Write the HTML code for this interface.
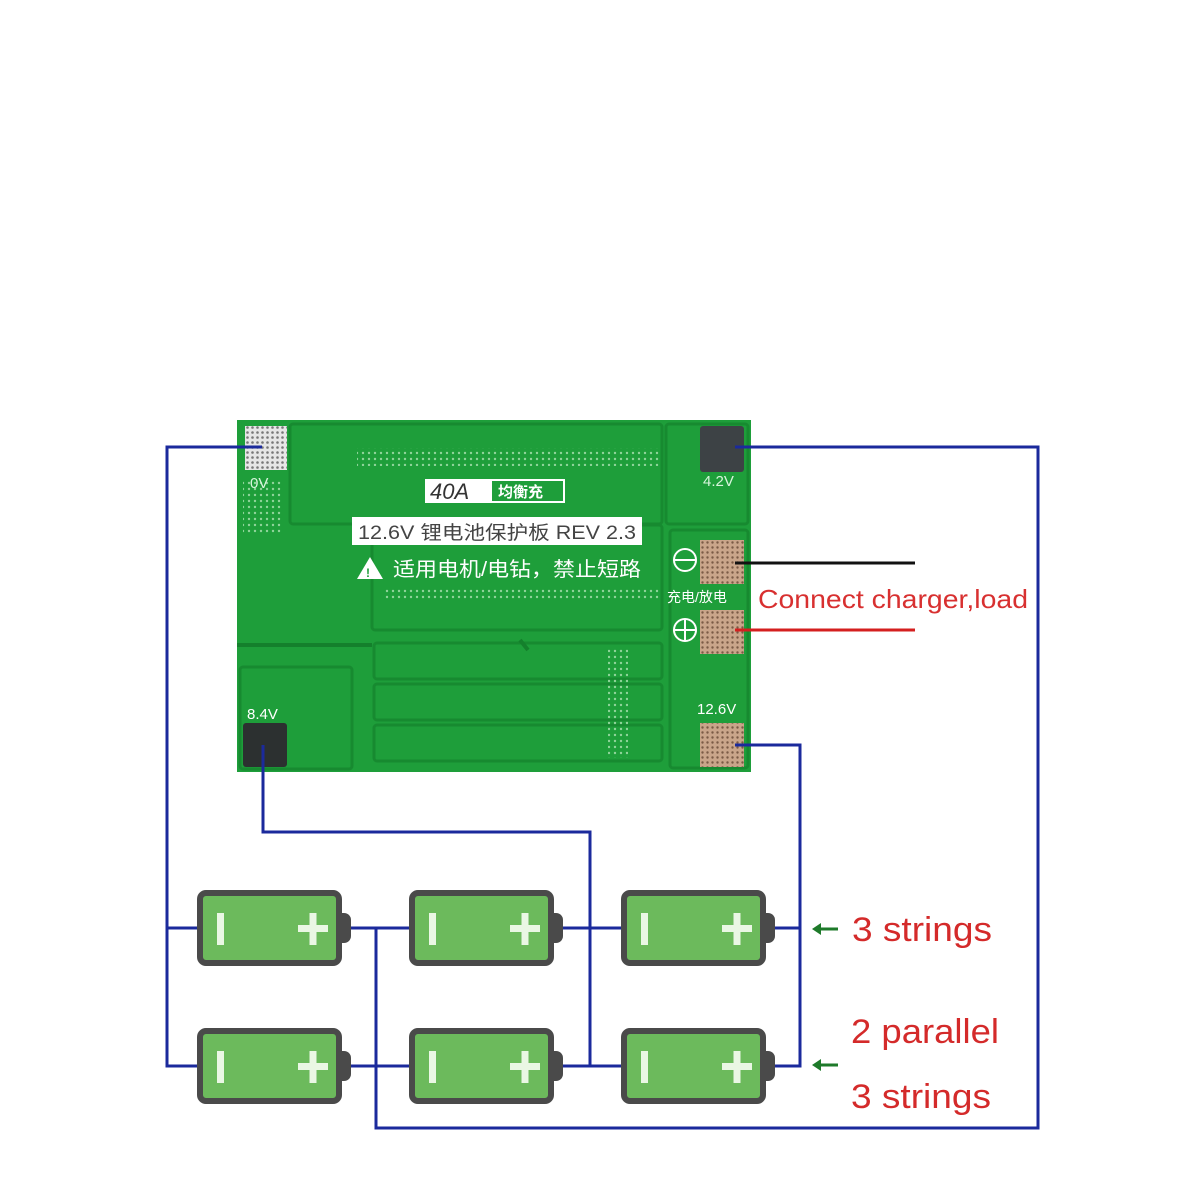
<!DOCTYPE html>
<html><head><meta charset="utf-8"><style>
html,body{margin:0;padding:0;background:#fff;width:1200px;height:1200px;overflow:hidden}
svg{display:block}
</style></head><body>
<svg width="1200" height="1200" viewBox="0 0 1200 1200" xmlns="http://www.w3.org/2000/svg" font-family="Liberation Sans, Noto Sans CJK SC, sans-serif">
<defs>
<pattern id="dots" width="6" height="6" patternUnits="userSpaceOnUse"><circle cx="3" cy="3" r="1.2" fill="#8fd49a"/></pattern>
<pattern id="pad" width="5" height="5" patternUnits="userSpaceOnUse"><rect width="5" height="5" fill="#c9a58a"/><circle cx="2.5" cy="2.5" r="1.2" fill="#7a5a45"/></pattern>
<pattern id="padw" width="5" height="5" patternUnits="userSpaceOnUse"><rect width="5" height="5" fill="#e6e6e6"/><circle cx="2.5" cy="2.5" r="1.3" fill="#777"/></pattern>
<g id="bat">
<rect x="2" y="2" width="139" height="70" rx="6" fill="#6cba5c" stroke="#4a4a4a" stroke-width="6"/>
<path d="M143 22 h3 a7 7 0 0 1 7 7 v16 a7 7 0 0 1 -7 7 h-3 z" fill="#4a4a4a"/>
<rect x="19" y="22" width="7" height="32" fill="#eaf7e4"/>
<rect x="100" y="34" width="30" height="7" fill="#eaf7e4"/>
<rect x="111.5" y="22" width="7" height="32" fill="#eaf7e4"/>
</g>
</defs>

<!-- PCB -->
<rect x="237" y="420" width="514" height="352" fill="#1e9e3a"/>
<g fill="none" stroke="#178a30" stroke-width="3">
<rect x="290" y="424" width="372" height="100" rx="3"/>
<rect x="666" y="424" width="82" height="100" rx="3"/>
<rect x="372" y="525" width="290" height="105" rx="3"/>
<rect x="374" y="643" width="288" height="36" rx="3"/>
<rect x="374" y="684" width="288" height="36" rx="3"/>
<rect x="374" y="725" width="288" height="36" rx="3"/>
<rect x="240" y="667" width="112" height="102" rx="3"/>
<rect x="670" y="530" width="78" height="238" rx="3"/>
</g>
<path d="M237 645 H372 M520 640 l8 10" stroke="#14802c" stroke-width="4" fill="none"/>
<rect x="357" y="448" width="303" height="18" fill="url(#dots)"/>
<rect x="385" y="587" width="275" height="14" fill="url(#dots)"/>
<rect x="243" y="480" width="40" height="55" fill="url(#dots)"/>
<rect x="608" y="648" width="20" height="110" fill="url(#dots)"/>
<!-- labels -->
<rect x="425" y="479" width="140" height="24" fill="#fff"/>
<rect x="492" y="481" width="71" height="20" fill="#1e9e3a"/>
<text x="430" y="499" font-size="22" font-style="italic" fill="#333">40A</text>
<text x="498" y="497" font-size="15" font-weight="bold" fill="#fff">均衡充</text>
<rect x="352" y="517" width="290" height="28" fill="#fff"/>
<text x="358" y="539" font-size="19" fill="#444" textLength="278" lengthAdjust="spacingAndGlyphs">12.6V 锂电池保护板 REV 2.3</text>
<path d="M370 557 l13 22 h-26 z" fill="#fff"/>
<text x="366" y="577" font-size="12" font-weight="bold" fill="#1e9e3a">!</text>
<text x="393" y="576" font-size="20" fill="#fff" textLength="248" lengthAdjust="spacingAndGlyphs">适用电机/电钻，禁止短路</text>
<text x="250" y="488" font-size="15" fill="#d8f5dc">0V</text>
<text x="703" y="486" font-size="15" fill="#d8f5dc">4.2V</text>
<text x="247" y="719" font-size="15" fill="#fff">8.4V</text>
<text x="697" y="714" font-size="15" fill="#fff">12.6V</text>
<text x="667" y="602" font-size="14" fill="#fff">充电/放电</text>
<circle cx="685" cy="560" r="11" fill="none" stroke="#fff" stroke-width="2"/>
<line x1="674" y1="560" x2="696" y2="560" stroke="#fff" stroke-width="2"/>
<circle cx="685" cy="630" r="11" fill="none" stroke="#fff" stroke-width="2"/>
<path d="M674 630 H696 M685 619 V641" stroke="#fff" stroke-width="2"/>
<!-- pads -->
<rect x="245" y="426" width="42" height="44" fill="url(#padw)"/>
<rect x="700" y="426" width="44" height="46" rx="3" fill="#3d4245"/>
<rect x="700" y="540" width="44" height="44" fill="url(#pad)"/>
<rect x="700" y="610" width="44" height="44" fill="url(#pad)"/>
<rect x="700" y="723" width="44" height="44" fill="url(#pad)"/>
<rect x="243" y="723" width="44" height="44" rx="3" fill="#2c3030"/>

<!-- charger lines -->
<line x1="735" y1="563" x2="915" y2="563" stroke="#111" stroke-width="3"/>
<line x1="735" y1="630" x2="915" y2="630" stroke="#d41f1f" stroke-width="3"/>
<text x="758" y="608" font-size="26" fill="#d83030" textLength="270" lengthAdjust="spacingAndGlyphs">Connect charger,load</text>

<!-- wires -->
<g fill="none" stroke="#1b2a9c" stroke-width="3">
<path d="M262 447 H167 V1066 H200"/>
<path d="M167 928 H200"/>
<path d="M735 447 H1038 V1128 H376 V928 H410"/>
<path d="M350 928 H376 M350 1066 H410"/>
<path d="M263 745 V832 H590 V1066"/>
<path d="M562 928 H622 M562 1066 H622"/>
<path d="M735 745 H800 V1066 H772"/>
<path d="M772 928 H800"/>
</g>

<!-- batteries -->
<use href="#bat" x="198" y="891"/>
<use href="#bat" x="410" y="891"/>
<use href="#bat" x="622" y="891"/>
<use href="#bat" x="198" y="1029"/>
<use href="#bat" x="410" y="1029"/>
<use href="#bat" x="622" y="1029"/>

<!-- arrows and labels -->
<g stroke="#1e7a2a" stroke-width="3" fill="#1e7a2a">
<line x1="818" y1="929" x2="838" y2="929"/><path d="M812 929 l9 -6 v12 z" stroke="none"/>
<line x1="818" y1="1065" x2="838" y2="1065"/><path d="M812 1065 l9 -6 v12 z" stroke="none"/>
</g>
<g font-size="34" fill="#d42a2a">
<text x="852" y="941" textLength="140" lengthAdjust="spacingAndGlyphs">3 strings</text>
<text x="851" y="1043" textLength="148" lengthAdjust="spacingAndGlyphs">2 parallel</text>
<text x="851" y="1108" textLength="140" lengthAdjust="spacingAndGlyphs">3 strings</text>
</g>
</svg>
</body></html>
